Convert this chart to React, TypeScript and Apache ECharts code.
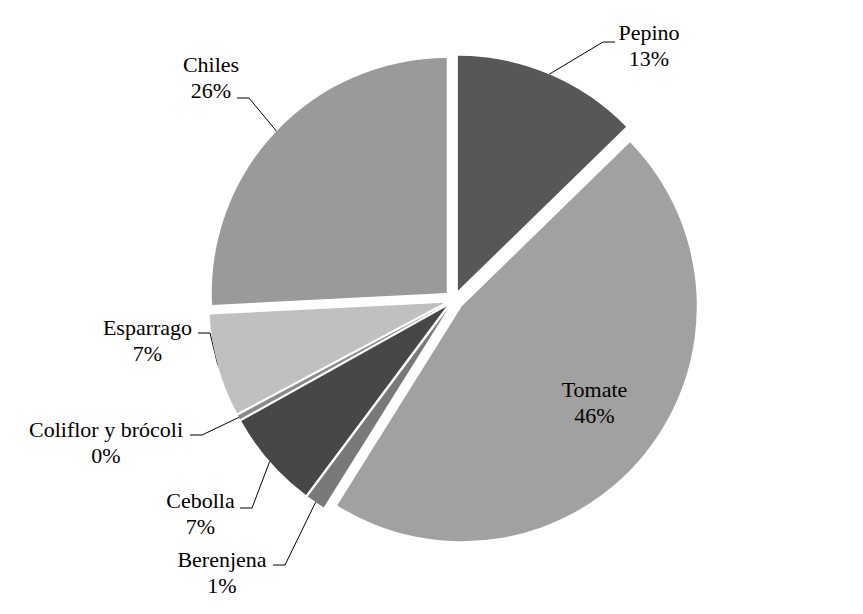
import React, { useEffect, useRef } from "react";
import * as echarts from "echarts";

const categories = ["Pepino", "Tomate", "Berenjena", "Cebolla", "Coliflor y brócoli", "Esparrago", "Chiles"];
const values = [12.7, 46.2, 1.3, 6.7, 0.3, 7.0, 25.8];
const colors = ["#575757", "#a1a1a1", "#797979", "#474747", "#8a8a8a", "#c0c0c0", "#9a9a9a"];

// label layout (center x, top of the two-line block) and leader attachment relative to it
const labelCx = [649, 594.5, 222, 200.5, 106, 147.5, 211];
const labelTop = [19, 376, 546, 487, 416, 314, 51];
const leaderEndDx = [-34, 0, 51, 39.5, 84, 50.5, 26];
const leaderEndDy = [23, 0, 19, 21, 19, 19, 47];

const CX = 454;
const CY = 300;
const R = 235;
const OFFSET = 10;

export default function App() {
  const ref = useRef<HTMLDivElement>(null);
  useEffect(() => {
    if (!ref.current) return;
    const chart = echarts.init(ref.current, null, { renderer: "svg" });
    const labelStyle = {
      formatter: (p: any) => `${p.name}\n${Math.round(p.percent)}%`,
      fontFamily: "Liberation Serif",
      fontSize: 22,
      lineHeight: 26,
      color: "#000",
      align: "center",
    };
    chart.setOption({
      animation: false,
      backgroundColor: "#ffffff",
      series: [
        {
          type: "pie",
          center: [CX, CY],
          radius: R,
          startAngle: 90,
          clockwise: true,
          selectedMode: "multiple",
          selectedOffset: OFFSET,
          silent: true,
          emphasis: { disabled: true },
          itemStyle: { borderWidth: 0 },
          label: { show: false },
          labelLine: { show: false },
          data: categories.map((name, i) => ({
            name,
            value: values[i],
            selected: true,
            itemStyle: { color: colors[i] },
          })),
        },
        {
          type: "pie",
          center: [CX, CY],
          radius: R,
          startAngle: 90,
          clockwise: true,
          silent: true,
          avoidLabelOverlap: false,
          emphasis: { disabled: true },
          itemStyle: { color: "rgba(0,0,0,0)", borderWidth: 0 },
          data: categories.map((name, i) => ({
            name,
            value: values[i],
            label: { position: i === 1 ? "inside" : "outside" },
            labelLine: { show: i !== 1 },
          })),
          label: labelStyle,
          labelLine: { show: true, length: 10, length2: 10, lineStyle: { color: "#000", width: 1 } },
          labelLayout: (params: any) => {
            const i = params.dataIndex;
            const res: any = { x: labelCx[i], y: labelTop[i], align: "center", verticalAlign: "top" };
            if (i !== 1 && params.labelLinePoints) {
              const a = params.labelLinePoints[0];
              const k = (R + OFFSET) / R;
              const ax = CX + (a[0] - CX) * k;
              const ay = CY + (a[1] - CY) * k;
              const ex = labelCx[i] + leaderEndDx[i];
              const ey = labelTop[i] + leaderEndDy[i];
              const kx = ex + (leaderEndDx[i] < 0 ? -12 : 12);
              res.labelLinePoints = [[ax, ay], [kx, ey], [ex, ey]];
            }
            return res;
          },
        },
      ],
    });
    return () => chart.dispose();
  }, []);
  return (
    <div
      ref={ref}
      style={{ position: "fixed", left: 0, top: 0, width: 863, height: 614, background: "#fff" }}
    />
  );
}
